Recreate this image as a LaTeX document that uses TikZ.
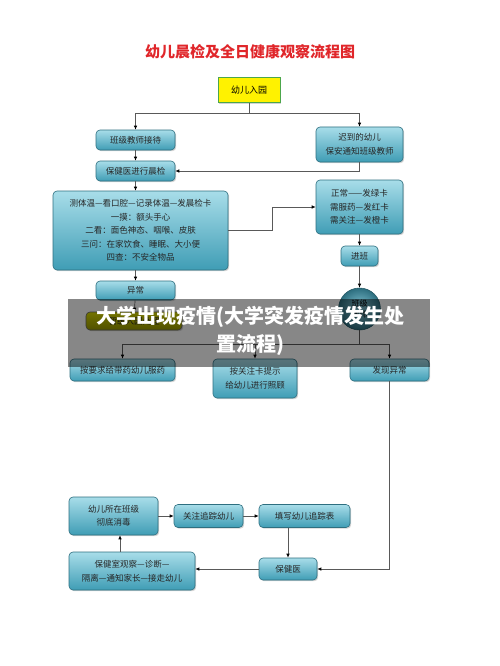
\documentclass[tikz,border=0pt]{standalone}
\usepackage{fontspec}
\setmainfont{Noto Sans CJK SC}
\usetikzlibrary{positioning, shadows, arrows.meta}
\definecolor{boxtop}{HTML}{A8DDE9}
\definecolor{boxbot}{HTML}{3F9DB5}
\definecolor{boxline}{HTML}{2E6F80}
\definecolor{titlered}{HTML}{E0262A}

\begin{document}
\begin{tikzpicture}[x=1pt, y=-1pt,
  box/.style={draw=boxline, line width=0.6pt, rounded corners=4pt, top color=boxtop, bottom color=boxbot,
    drop shadow={shadow xshift=1.2pt, shadow yshift=-1.2pt, opacity=0.35},
    align=center, inner sep=1pt, font=\fontsize{8.5}{13.5}\selectfont, text=black!85},
  startbox/.style={draw=green!50!black!70, line width=1pt, fill=yellow, align=center,
    drop shadow={shadow xshift=1.2pt, shadow yshift=-1.2pt, opacity=0.35},
    font=\fontsize{9}{11}\selectfont, minimum width=62, minimum height=25},
  olivebox/.style={box, draw=black!60, top color=yellow!70!olive, bottom color=olive!80!yellow},
  roundbox/.style={circle, draw=boxline!80!black, line width=0.6pt, inner color=boxtop!70!boxbot,
    outer color=boxbot!70!black, minimum size=42, inner sep=0pt, align=center,
    font=\fontsize{8}{11}\selectfont},
  line/.style={draw=black!65, line width=0.7pt},
  arrow/.style={line, -{Latex[length=4pt, width=3.5pt, color=black]}}]

  \useasboundingbox (0,0) rectangle (500,666); % Margen

  \node[font=\bfseries\fontsize{15}{18}\selectfont, text=titlered] (titulo) at (250,52) {幼儿晨检及全日健康观察流程图}; % Titulo

  % Parte superior
  \node[startbox] (ruyuan) at (249,90.5) {幼儿入园};
  \node[box, minimum width=79, minimum height=20] (jiedai) at (135.5,140) {班级教师接待};
  \node[box, minimum width=87, minimum height=35] (chidao) at (359.5,144.5) {迟到的幼儿\\保安通知班级教师};
  \node[box, minimum width=79, minimum height=20] (chenjian) at (135.5,171) {保健医进行晨检};
  \node[box, minimum width=175, minimum height=79] (jiancha) at (140.5,230.5)
    {测体温—看口腔—记录体温—发晨检卡\\一摸：额头手心\\二看：面色神态、咽喉、皮肤\\三问：在家饮食、睡眠、大小便\\四查：不安全物品};
  \node[box, minimum width=87, minimum height=54] (ka) at (359.5,207) {正常——发绿卡\\需服药—发红卡\\需关注—发橙卡};
  \node[box, minimum width=37, minimum height=20] (jinban) at (359.5,256) {进班};
  \node[roundbox] (jiaoshi) at (359.5,309) {班级\\教师};

  % Parte media
  \node[box, minimum width=79, minimum height=19] (yichang) at (135.5,290.5) {异常};
  \node[olivebox, minimum width=96, minimum height=18] (chuli) at (134,321) {暂缓入园处理};
  \node[box, minimum width=105, minimum height=22] (fuyao) at (122.5,370) {按要求给带药幼儿服药};
  \node[box, minimum width=84, minimum height=39] (zhaogu) at (255,378.5) {按关注卡提示\\给幼儿进行照顾};
  \node[box, minimum width=79, minimum height=22] (faxian) at (389.5,370) {发现异常};

  % Parte inferior
  \node[box, minimum width=89, minimum height=38] (xiaodu) at (113.5,516) {幼儿所在班级\\彻底消毒};
  \node[box, minimum width=69, minimum height=23] (zhuizong) at (208.5,516) {关注追踪幼儿};
  \node[box, minimum width=91, minimum height=23] (tianxie) at (304.5,516) {填写幼儿追踪表};
  \node[box, minimum width=58, minimum height=22] (baojianyi) at (288,569) {保健医};
  \node[box, minimum width=126, minimum height=38] (guancha) at (132,571) {保健室观察—诊断—\\隔离—通知家长—接走幼儿};

  % Conexiones
  \draw[line] (ruyuan.south) -- ++(0,10) coordinate (fen);
  \draw[arrow] (fen) -| (jiedai.north);
  \draw[arrow] (fen) -| (chidao.north);
  \draw[arrow] (jiedai) -- (chenjian);
  \draw[arrow] (chidao.south) |- (chenjian.east);
  \draw[arrow] (chenjian.south) -- (chenjian.south |- jiancha.north);
  \draw[arrow] (jiancha.east) -- ++(44,0) |- (ka.west);
  \draw[arrow] (ka) -- (jinban);
  \draw[arrow] (jinban) -- (jiaoshi);
  \draw[arrow] (yichang.north |- jiancha.south) -- (yichang.north);
  \draw[arrow] (yichang) -- (chuli);
  \draw[line] (jiaoshi.south) -- ++(0,14) coordinate (fenzhi);
  \draw[arrow] (fenzhi) -| (fuyao.north);
  \draw[arrow] (fenzhi) -| (faxian.north);
  \draw[arrow] (zhaogu.north |- fenzhi) -- (zhaogu.north);
  \draw[arrow] (faxian.south) |- (baojianyi.east);
  \draw[arrow] (xiaodu) -- (zhuizong);
  \draw[arrow] (zhuizong) -- (tianxie);
  \draw[arrow] (baojianyi.north |- tianxie.south) -- (baojianyi.north);
  \draw[arrow] (baojianyi.west) -- (baojianyi.west -| guancha.east);
  \draw[arrow] ([xshift=-12pt]guancha.north) -- ([xshift=-12pt]guancha.north |- xiaodu.south);

  % Banda superpuesta
  \fill[black, opacity=0.47] (68,299) rectangle (430,367);
  \node[font=\bfseries\fontsize{20}{28}\selectfont, text=white, align=center] (banda) at (250,331)
    {大学出现疫情(大学突发疫情发生处\\置流程)};

\end{tikzpicture}
\end{document}
